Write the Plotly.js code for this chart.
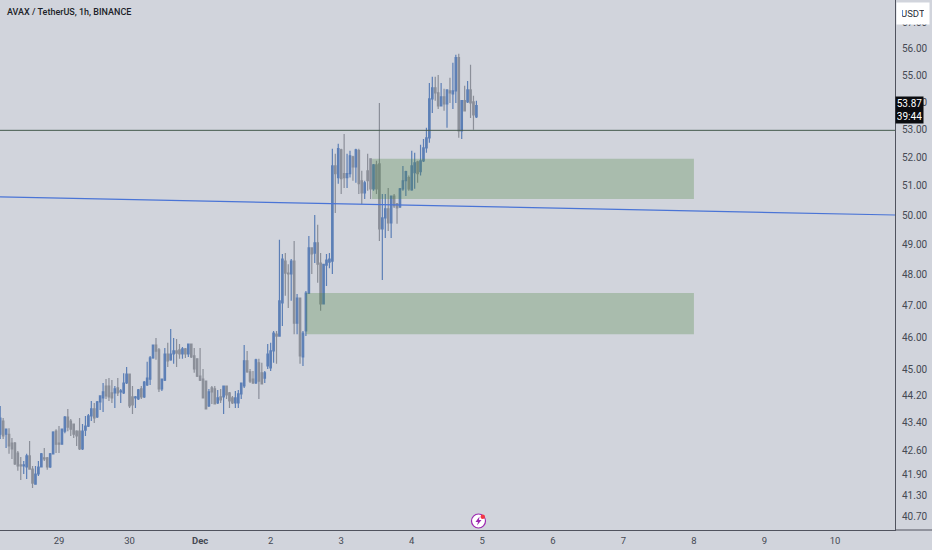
<!DOCTYPE html>
<html>
<head>
<meta charset="utf-8">
<script src="https://cdn.plot.ly/plotly-3.0.1.min.js"></script>
<style>
html, body { margin: 0; padding: 0; background: #d1d4dc; overflow: hidden; }
#chart { width: 932px; height: 550px; }
</style>
</head>
<body>
<div id="chart"></div>
<script>
// hourly candles, first one at firstCandle
const firstCandle = '2024-11-28T04:00:00Z';

const opens = [43.06,43.45,43.06,43.06,42.80,42.80,42.51,42.17,42.14,42.11,42.43,42.05,41.62,41.91,42.11,42.37,42.37,42.11,42.49,43.15,
  42.80,42.77,43.15,43.57,43.45,43.36,43.15,43.15,42.63,43.18,43.30,43.60,43.81,43.57,44.02,44.14,44.50,44.50,44.29,44.29,
  44.44,44.32,44.29,44.59,44.86,44.17,44.14,44.11,44.41,44.17,44.53,44.71,45.36,45.76,45.61,44.41,44.68,45.48,45.30,45.48,
  45.58,45.61,45.48,45.64,45.48,45.79,45.42,45.33,44.80,44.71,44.65,43.90,44.44,44.41,43.99,44.17,44.17,44.50,44.29,44.14,
  43.99,43.99,44.26,44.50,45.27,44.93,44.71,44.59,45.21,44.90,44.74,45.11,45.05,45.58,46.10,46.04,47.09,48.45,48.06,48.03,
  48.45,46.45,47.25,45.39,46.20,47.41,48.89,48.72,49.06,48.39,47.06,48.32,48.42,48.45,51.70,51.29,52.27,51.43,51.29,51.43,
  52.02,51.67,52.24,51.18,50.76,51.53,51.95,50.90,51.74,51.77,49.53,49.90,50.21,49.73,50.65,50.38,50.28,50.90,51.18,51.29,
  50.86,51.46,51.84,51.50,51.88,52.34,52.70,54.12,54.53,54.34,53.86,54.19,53.93,54.41,54.30,54.41,55.66,52.95,54.05,54.01,
  54.45,54.01,53.46];
const highs = [43.90,43.54,43.21,43.24,42.95,42.83,42.57,42.40,42.28,42.49,42.86,42.14,42.14,42.28,42.51,42.66,42.40,42.51,43.15,43.21,
  43.30,43.21,43.60,43.81,43.51,43.36,43.18,43.54,43.36,43.60,43.66,44.05,43.99,44.05,44.20,44.59,44.71,44.74,44.68,44.50,
  44.74,44.41,44.89,45.08,44.86,44.50,44.20,44.41,44.50,44.65,45.24,45.42,45.76,45.98,45.67,44.71,45.67,45.83,46.26,45.98,
  45.95,45.79,45.70,45.67,45.79,45.79,45.67,45.33,45.67,45.02,44.65,44.41,44.50,44.50,44.38,44.41,44.50,44.50,44.32,44.20,
  44.35,44.38,44.59,45.76,45.57,45.02,44.96,45.33,45.33,45.21,44.96,45.79,45.83,46.20,46.20,49.16,48.69,48.72,48.35,48.52,
  49.12,47.38,47.25,46.20,47.48,49.29,48.89,50.00,49.67,48.72,48.35,48.69,48.72,52.31,52.13,52.49,52.31,52.84,52.13,52.24,
  52.06,52.31,52.31,51.53,51.18,52.13,51.95,51.77,51.88,53.97,50.72,50.72,50.93,50.65,50.72,50.41,50.93,51.70,51.53,51.36,
  52.24,52.17,51.88,52.45,52.66,53.06,54.71,54.94,54.94,55.01,54.71,54.49,54.45,54.90,55.47,55.77,55.81,54.05,54.60,54.78,
  55.39,54.23,54.05];
const lows = [42.92,42.92,42.66,42.49,42.34,42.17,42.00,41.74,41.91,41.77,42.05,41.51,41.62,41.85,42.11,42.28,42.03,42.08,42.49,42.51,
  42.51,42.77,43.09,43.15,43.01,42.95,42.72,42.60,42.60,43.01,43.27,43.45,43.39,43.54,43.78,43.72,44.11,44.05,43.99,43.84,
  44.20,43.99,44.26,44.56,43.84,43.66,43.84,44.08,44.11,44.14,44.50,44.53,45.33,45.30,44.32,44.35,44.65,45.08,45.27,45.18,
  45.08,45.33,45.33,45.36,45.39,45.36,44.90,44.77,44.65,44.14,43.81,43.87,43.96,43.96,43.96,43.99,43.66,44.11,43.84,43.96,
  43.84,43.84,44.11,44.44,44.90,44.59,44.56,44.56,44.11,44.56,44.59,45.02,44.96,45.21,45.18,46.04,46.36,47.32,46.93,47.16,
  46.10,46.10,45.18,45.11,46.04,47.38,48.03,48.39,47.74,46.84,47.06,47.64,48.22,48.03,50.07,51.08,50.72,50.93,50.93,51.29,
  51.18,51.11,50.72,50.38,50.55,50.83,50.55,50.83,50.72,49.12,47.83,49.22,49.46,49.22,50.24,49.70,50.24,50.83,50.65,50.83,
  50.83,50.90,51.11,51.36,51.84,52.17,52.52,53.60,54.05,53.75,53.86,53.68,53.06,53.97,53.75,53.97,52.70,52.66,53.68,53.97,
  53.42,52.99,53.42];
const closes = [43.54,43.01,43.21,42.72,42.63,42.20,42.14,42.14,42.17,42.43,42.05,41.65,41.91,42.11,42.49,42.34,42.11,42.49,43.12,42.77,
  42.77,43.21,43.57,43.27,43.21,43.06,43.01,42.63,43.15,43.30,43.60,43.81,43.54,44.02,44.20,44.32,44.20,44.17,44.14,44.41,
  44.29,44.35,44.59,44.86,43.90,43.93,44.17,44.38,44.17,44.62,44.74,45.36,45.76,45.57,44.41,44.71,45.48,45.27,45.48,45.58,
  45.51,45.48,45.64,45.48,45.79,45.39,45.02,44.80,44.68,44.14,43.81,44.32,44.32,43.96,44.14,44.08,44.50,44.23,44.05,43.99,
  44.14,44.26,44.59,45.27,44.93,44.65,44.59,45.30,44.65,44.56,44.90,45.48,45.58,46.13,46.04,47.16,48.52,48.06,48.03,48.45,
  46.45,47.25,45.42,46.13,47.41,48.89,48.69,49.06,48.35,47.06,48.35,48.49,48.52,51.70,51.43,52.31,51.25,51.29,51.43,52.06,
  51.67,52.27,51.08,50.76,51.11,51.18,50.90,51.74,50.90,49.53,49.90,50.21,49.73,50.65,50.31,50.24,50.90,51.18,51.50,50.90,
  51.70,51.81,51.43,51.88,52.34,52.70,54.12,54.53,54.34,53.86,54.19,53.93,54.45,54.34,54.41,55.66,52.95,54.05,53.68,54.45,
  53.97,53.53,53.87];

// horizontal levels and drawn lines
const resistanceLevel = 52.97;
const trendTimes = ['2024-11-28T03:56:00Z', '2024-12-10T20:24:00Z'];
const trendPrices = [50.62, 50.00];

// demand zones
const zoneStarts = ['2024-12-03T10:30:00Z', '2024-12-02T12:00:00Z'];
const zoneEnds = ['2024-12-08T00:00:00Z', '2024-12-08T00:00:00Z'];
const zoneTops = [51.95, 47.41];
const zoneBottoms = [50.55, 46.10];

const priceTicks = [57, 56, 55, 54, 53, 52, 51, 50, 49, 48, 47, 46, 45, 44.2, 43.4, 42.6, 41.9, 41.3, 40.7];
const dayTicks = ['2024-11-29', '2024-11-30', '2024-12-01', '2024-12-02', '2024-12-03', '2024-12-04', '2024-12-05',
  '2024-12-06', '2024-12-07', '2024-12-08', '2024-12-09', '2024-12-10'];
const dayLabels = ['29', '30', '<b>Dec</b>', '2', '3', '4', '5', '6', '7', '8', '9', '10'];

const chartTitle = 'AVAX / TetherUS, 1h, BINANCE';
const lastPrice = '53.87';
const countdown = '39:44';

const W = 932, H = 550, plotW = 895, plotH = 530;
const FONT = 'Roboto, "Liberation Sans", sans-serif';
const px = x => x / plotW;
const py = y => 1 - y / plotH;

const t0 = new Date(firstCandle).getTime();
const times = closes.map((_, i) => new Date(t0 + i * 3600000).toISOString());

const candles = {
  type: 'candlestick',
  x: times, open: opens, high: highs, low: lows, close: closes,
  increasing: { line: { color: '#5c7fb6', width: 1.2 }, fillcolor: '#5c7fb6' },
  decreasing: { line: { color: '#8b8f99', width: 1.2 }, fillcolor: '#8b8f99' },
  whiskerwidth: 0,
  hoverinfo: 'skip',
  showlegend: false
};
const levelLine = {
  type: 'scatter', mode: 'lines',
  x: trendTimes, y: [resistanceLevel, resistanceLevel],
  line: { color: '#44594c', width: 1 },
  hoverinfo: 'skip', showlegend: false
};
const trendLine = {
  type: 'scatter', mode: 'lines',
  x: trendTimes, y: trendPrices,
  line: { color: '#4a74d6', width: 1.2 },
  hoverinfo: 'skip', showlegend: false
};

const zones = zoneStarts.map((s, i) => ({
  type: 'rect', xref: 'x', yref: 'y', layer: 'above',
  x0: s, x1: zoneEnds[i], y0: zoneBottoms[i], y1: zoneTops[i],
  fillcolor: 'rgba(76,132,67,0.3)', line: { width: 0 }
}));

// bottom axis line runs under the price scale too, plus the little event badge
const extras = [
  { type: 'line', xref: 'paper', yref: 'paper', x0: 1, x1: px(W), y0: 0, y1: 0, line: { color: '#50535e', width: 1 } },
  { type: 'circle', xref: 'paper', yref: 'paper', x0: px(471.5), x1: px(485.5), y0: py(528), y1: py(514),
    fillcolor: '#ffffff', line: { color: '#9c27b0', width: 1.2 } },
  { type: 'path', xref: 'paper', yref: 'paper', fillcolor: '#9c27b0', line: { width: 0 },
    path: 'M ' + px(479.5) + ' ' + py(516.5) + ' L ' + px(475.5) + ' ' + py(522) + ' L ' + px(478) + ' ' + py(522) +
      ' L ' + px(477) + ' ' + py(525.5) + ' L ' + px(481.5) + ' ' + py(520) + ' L ' + px(479) + ' ' + py(520) + ' Z' },
  { type: 'circle', xref: 'paper', yref: 'paper', x0: px(480.5), x1: px(485), y0: py(519), y1: py(514.5),
    fillcolor: '#f23645', line: { width: 0 } }
];

const layout = {
  width: W, height: H,
  margin: { l: 0, r: W - plotW, t: 0, b: H - plotH, pad: 0 },
  paper_bgcolor: '#d1d4dc',
  plot_bgcolor: '#d1d4dc',
  showlegend: false,
  font: { family: FONT, size: 10, color: '#454953' },
  xaxis: {
    type: 'date',
    range: trendTimes,
    rangeslider: { visible: false },
    tickmode: 'array', tickvals: dayTicks, ticktext: dayLabels,
    showgrid: false, zeroline: false,
    showline: true, linecolor: '#50535e', linewidth: 1,
    ticks: 'outside', ticklen: 2, tickcolor: 'rgba(0,0,0,0)',
    tickangle: 0,
    tickfont: { family: FONT, size: 9.5, color: '#454953' },
    fixedrange: true
  },
  yaxis: {
    type: 'log',
    range: [Math.log10(40.34), Math.log10(57.89)],
    side: 'right',
    tickmode: 'array', tickvals: priceTicks, ticktext: priceTicks.map(v => v.toFixed(2)),
    showgrid: false, zeroline: false,
    showline: true, linecolor: '#50535e', linewidth: 1,
    ticks: 'outside', ticklen: 4, tickcolor: 'rgba(0,0,0,0)',
    tickfont: { family: FONT, size: 10, color: '#454953' },
    fixedrange: true
  },
  shapes: zones.concat(extras),
  annotations: [
    { xref: 'paper', yref: 'paper', x: px(5), y: py(12), xanchor: 'left', yanchor: 'middle', showarrow: false,
      text: chartTitle, font: { family: FONT, size: 9, weight: 500, color: '#1c1f28' } },
    { xref: 'paper', yref: 'paper', x: px(913), y: py(14), xanchor: 'center', yanchor: 'middle', showarrow: false,
      text: 'USDT', bgcolor: '#ffffff', borderpad: 5, width: 22,
      font: { family: FONT, size: 9.5, color: '#2a2e39' } },
    { xref: 'paper', yref: 'paper', x: px(910), y: py(110), xanchor: 'center', yanchor: 'middle', showarrow: false,
      text: lastPrice + '<br>' + countdown, bgcolor: '#0b0c10', borderpad: 1, width: 25, align: 'center',
      font: { family: FONT, size: 10, color: '#ffffff' } }
  ]
};

Plotly.newPlot('chart', [candles, levelLine, trendLine], layout, { staticPlot: true, displayModeBar: false });
</script>
</body>
</html>
